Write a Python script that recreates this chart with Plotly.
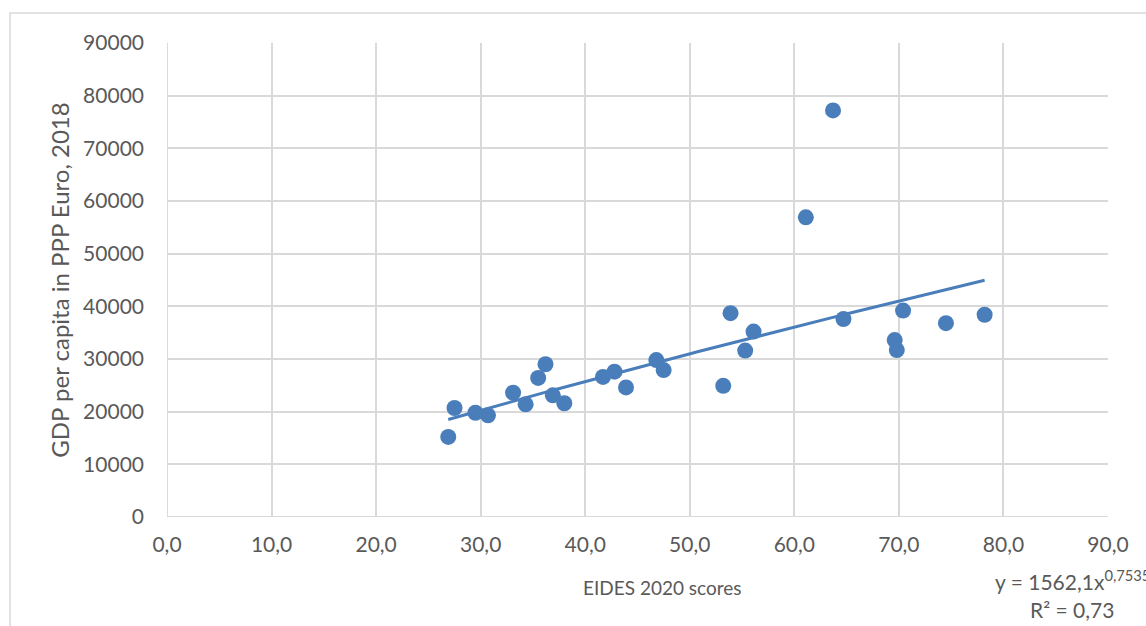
import numpy as np
import plotly.graph_objects as go

# EIDES 2020 scores and GDP per capita (PPP Euro, 2018)
eides = [26.9, 27.5, 29.5, 30.7, 33.1, 34.3, 35.5, 36.2, 36.9, 38.0,
         41.7, 42.8, 43.9, 46.8, 47.5, 53.2, 53.9, 55.3, 56.1, 61.1,
         63.7, 64.7, 69.6, 69.8, 70.4, 74.5, 78.2]
gdp = [15200, 20700, 19800, 19300, 23600, 21400, 26400, 29000, 23100, 21600,
       26600, 27600, 24600, 29800, 27900, 24900, 38700, 31600, 35200, 56900,
       77200, 37600, 33600, 31700, 39200, 36800, 38400]

x_ticks = [0, 10, 20, 30, 40, 50, 60, 70, 80, 90]
y_ticks = [0, 10000, 20000, 30000, 40000, 50000, 60000, 70000, 80000, 90000]

# power trendline fitted in log-log space
xa = np.array(eides)
ya = np.array(gdp)
b, loga = np.polyfit(np.log(xa), np.log(ya), 1)
xt = np.linspace(xa.min(), xa.max(), 100)
yt = np.exp(loga) * xt ** b

blue = "#4a7ebb"
grid = "#d9d9d9"
tick_col = "#595959"
font = "Lato, 'Open Sans', sans-serif"

fig = go.Figure()
fig.add_trace(go.Scatter(x=xt, y=yt, mode="lines",
                         line=dict(color=blue, width=3), hoverinfo="skip",
                         showlegend=False))
fig.add_trace(go.Scatter(x=eides, y=gdp, mode="markers",
                         marker=dict(color=blue, size=16, line=dict(width=0)),
                         showlegend=False))

fig.update_layout(
    width=1146, height=626,
    margin=dict(l=167, r=38, t=43, b=109, autoexpand=False),
    paper_bgcolor="white", plot_bgcolor="white",
    separators=", ",
    font=dict(family=font, color=tick_col, size=18),
    xaxis=dict(range=[0, 90], tickvals=x_ticks, tickformat=".1f",
               showgrid=True, gridcolor=grid, gridwidth=2,
               zeroline=False, showline=False, ticks="",
               ticklabelstandoff=13,
               tickfont=dict(size=21, color=tick_col)),
    yaxis=dict(range=[0, 90000], tickvals=y_ticks, tickformat="d",
               exponentformat="none",
               showgrid=True, gridcolor=grid, gridwidth=2,
               zeroline=False, showline=False, ticks="",
               ticklabelstandoff=22,
               tickfont=dict(size=21, color=tick_col),
               title=dict(text="GDP per capita in PPP Euro, 2018",
                          font=dict(size=24, color=tick_col), standoff=6)),
    shapes=[
        dict(type="line", xref="x", yref="y", x0=0, x1=0, y0=0, y1=90000,
             line=dict(color=grid, width=2), layer="below"),
        dict(type="line", xref="x", yref="y", x0=0, x1=90, y0=0, y1=0,
             line=dict(color=grid, width=2), layer="below"),
        dict(type="rect", xref="paper", yref="paper",
             x0=(10 - 167) / 941, x1=1.2, y0=-0.3, y1=(517 - 13) / 474,
             line=dict(color="#d9d9d9", width=1.5), layer="below"),
    ],
    annotations=[
        dict(xref="paper", yref="paper", x=(662 - 167) / 941, y=(517 - 587) / 474,
             xanchor="center", yanchor="middle", showarrow=False,
             text="EIDES 2020 scores", font=dict(size=19, color=tick_col)),
        dict(xref="paper", yref="paper", x=(993 - 167) / 941, y=(517 - 580) / 474,
             xanchor="left", yanchor="middle", showarrow=False,
             text="y = 1562,1x<sup>0,7535</sup>", font=dict(size=21, color=tick_col)),
        dict(xref="paper", yref="paper", x=(1072 - 167) / 941, y=(517 - 609) / 474,
             xanchor="center", yanchor="middle", showarrow=False,
             text="R² = 0,73", font=dict(size=21, color=tick_col)),
    ],
)

fig.write_html("out.html",
               config={"displayModeBar": False},
               post_script="document.body.style.margin='0px';")
